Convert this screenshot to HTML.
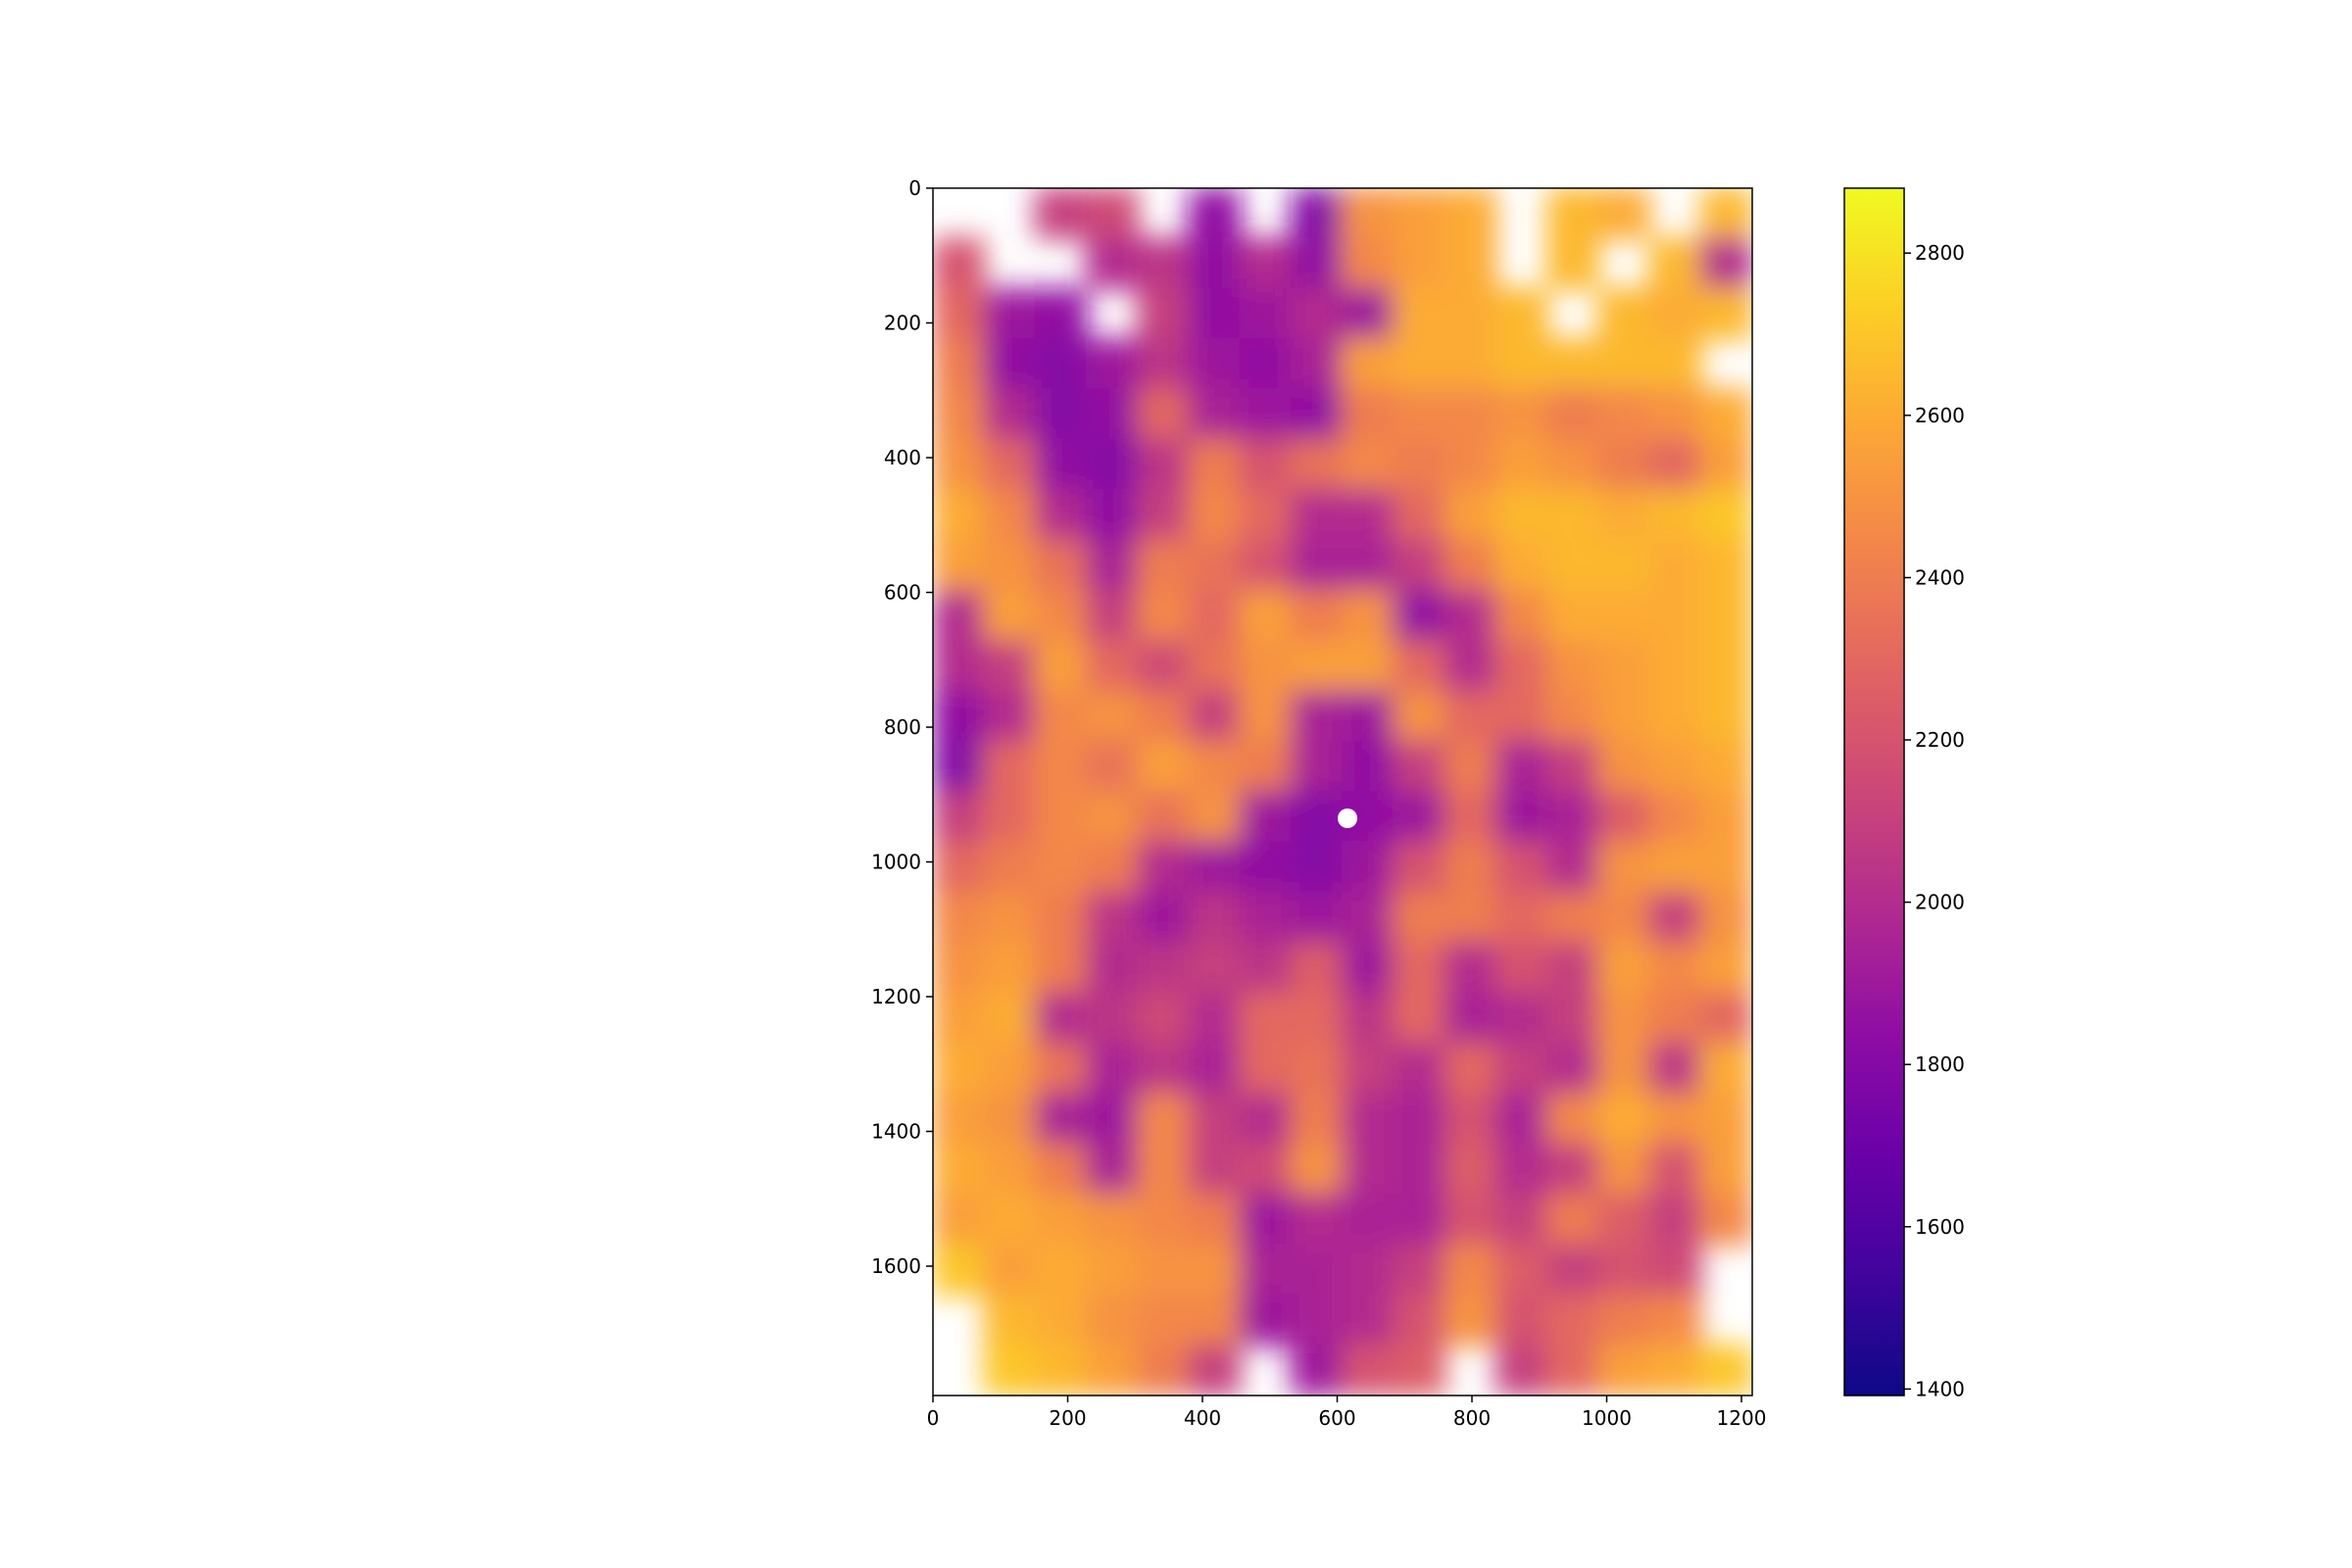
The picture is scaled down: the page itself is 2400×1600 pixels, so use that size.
<!DOCTYPE html>
<html><head><meta charset="utf-8"><style>
body{margin:0;background:#fff;}
svg{display:block;font-family:"DejaVu Sans","Liberation Sans",sans-serif;}
</style></head><body>
<svg id="fig" width="2400" height="1600" viewBox="0 0 2400 1600" xmlns="http://www.w3.org/2000/svg">
<defs>
<filter id="blur" x="-5%" y="-5%" width="110%" height="110%"><feGaussianBlur stdDeviation="14"/></filter>
<clipPath id="plotclip"><rect x="952" y="192" width="836" height="1232"/></clipPath>
<linearGradient id="cbgrad" x1="0" y1="1" x2="0" y2="0">
<stop offset="0" stop-color="#0d0887"/><stop offset="0.1" stop-color="#41049d"/><stop offset="0.2" stop-color="#6a00a8"/><stop offset="0.3" stop-color="#8f0da4"/><stop offset="0.4" stop-color="#b12a90"/><stop offset="0.5" stop-color="#cc4778"/><stop offset="0.6" stop-color="#e16462"/><stop offset="0.7" stop-color="#f2844b"/><stop offset="0.8" stop-color="#fca636"/><stop offset="0.9" stop-color="#fcce25"/><stop offset="1" stop-color="#f0f921"/>
</linearGradient>
</defs>
<g id="heat" clip-path="url(#plotclip)"><g id="cells" filter="url(#blur)"></g></g>
<circle cx="1375" cy="835" r="10" fill="#fff"/>
<rect x="952" y="192" width="836" height="1232" fill="none" stroke="#000" stroke-width="1.5"/>
<g id="axes"></g>
<rect x="1882" y="192" width="61" height="1232" fill="url(#cbgrad)" stroke="#000" stroke-width="1.5"/>
</svg>
<script>
const W = null;
const xTicks = [0,200,400,600,800,1000,1200];
const yTicks = [0,200,400,600,800,1000,1200,1400,1600];
const cbTicks = [1400,1600,1800,2000,2200,2400,2600,2800];
const vmin = 1392, vmax = 2880;
const dataW = 1216, dataH = 1792;
const row0=[W,W,2100,2150,W,1850,W,1800,2500,2550,2600,W,2650,2600,W,2650];
const row1=[2200,W,W,2000,2050,1850,2000,1850,2450,2550,2600,W,2650,W,2650,2000];
const row2=[2300,1900,1850,W,2100,1850,1900,2000,1900,2600,2600,2650,W,2650,2600,2650];
const row3=[2400,1850,1800,1900,2050,1900,1850,1950,2550,2600,2600,2650,2650,2650,2650,W];
const row4=[2450,2000,1800,1850,2300,1950,1900,1850,2400,2450,2450,2500,2400,2450,2500,2600];
const row5=[2500,2300,1850,1800,2050,2400,2200,2350,2450,2400,2450,2550,2500,2400,2300,2550];
const row6=[2600,2450,2000,1850,2100,2450,2300,2000,2000,2300,2550,2650,2650,2600,2650,2700];
const row7=[2550,2500,2350,1950,2400,2350,2200,1950,1950,2100,2400,2600,2650,2650,2600,2650];
const row8=[2000,2550,2450,2100,2450,2300,2550,2400,2500,1850,2000,2450,2600,2600,2600,2650];
const row9=[2000,2100,2550,2300,2150,2350,2500,2550,2550,2300,2000,2300,2500,2550,2600,2650];
const row10=[1850,2000,2450,2500,2400,2100,2500,1950,1900,2500,2300,2300,2450,2550,2600,2650];
const row11=[1800,2300,2450,2350,2550,2450,2400,1950,1850,2100,2400,1950,2100,2500,2550,2600];
const row12=[2100,2300,2450,2500,2350,2500,1900,1800,1850,1900,2300,1900,1950,2250,2450,2550];
const row13=[2300,2400,2450,2400,2000,1900,1850,1800,1900,2200,2400,2200,2000,2500,2550,2550];
const row14=[2450,2500,2400,2050,1900,2050,1950,1900,1950,2400,2400,2300,2400,2450,2100,2500];
const row15=[2500,2550,2400,2000,2050,2100,2050,2250,1900,2300,2000,2200,2100,2550,2450,2550];
const row16=[2550,2600,2000,2050,2150,2000,2300,2300,2050,2300,1950,2000,2100,2500,2400,2300];
const row17=[2600,2550,2350,1950,2050,1950,2300,2350,2100,2000,2300,2100,2000,2500,2050,2600];
const row18=[2550,2500,1950,1900,2450,2100,2000,2400,2000,1950,2200,1950,2450,2600,2500,2550];
const row19=[2600,2550,2400,1950,2450,2100,2150,2500,2000,1950,2250,2000,2100,2500,2200,2550];
const row20=[2550,2600,2550,2500,2450,2400,1900,2000,1950,1950,2200,2100,2400,2250,2100,2450];
const row21=[2700,2550,2600,2550,2500,2500,1950,1950,2000,2100,2450,2250,2100,2200,2150,W];
const row22=[W,2650,2600,2500,2450,2450,1900,1950,2000,2200,2500,2200,2300,2400,2450,W];
const row23=[W,2700,2650,2550,2400,2100,W,1900,2200,2250,W,2100,2300,2550,2600,2700];
const grid=[row0,row1,row2,row3,row4,row5,row6,row7,row8,row9,row10,row11,row12,row13,row14,row15,row16,row17,row18,row19,row20,row21,row22,row23];

const PX0=952, PY0=192, PW=836, PH=1232;
function xScale(v){return PX0 + v/dataW*PW;}
function yScale(v){return PY0 + v/dataH*PH;}
function cbScale(v){return 1424 - (v-vmin)/(vmax-vmin)*1232;}
const stops=[[13,8,135],[65,4,157],[106,0,168],[143,13,164],[177,42,144],[204,71,120],[225,100,98],[242,132,75],[252,166,54],[252,206,37],[240,249,33]];
function plasma(v){
  let t=Math.max(0,Math.min(1,(v-vmin)/(vmax-vmin)))*10;
  let i=Math.min(9,Math.floor(t)), f=t-i;
  const a=stops[i], b=stops[i+1];
  return 'rgb('+a.map((c,k)=>Math.round(c+(b[k]-c)*f)).join(',')+')';
}
const NS='http://www.w3.org/2000/svg';
const cells=document.getElementById('cells');
const nr=grid.length, nc=grid[0].length;
const cw=dataW/nc, ch=dataH/nr;
grid.forEach((row,r)=>row.forEach((v,c)=>{
  if(v===null) return;
  const el=document.createElementNS(NS,'rect');
  
  
  const x0=xScale(c*cw), y0=yScale(r*ch);
  el.setAttribute('x',x0-1); el.setAttribute('y',y0-1);
  el.setAttribute('width',xScale((c+1)*cw)-x0+2); el.setAttribute('height',yScale((r+1)*ch)-y0+2);
  el.setAttribute('fill',plasma(v));
  cells.appendChild(el);
}));
const axes=document.getElementById('axes');
function line(x1,y1,x2,y2){const l=document.createElementNS(NS,'line');l.setAttribute('x1',x1);l.setAttribute('y1',y1);l.setAttribute('x2',x2);l.setAttribute('y2',y2);l.setAttribute('stroke','#000');l.setAttribute('stroke-width','1.5');return l;}
function text(x,y,s,anchor){const t=document.createElementNS(NS,'text');t.setAttribute('x',x);t.setAttribute('y',y);t.setAttribute('font-size','20');t.setAttribute('text-anchor',anchor);t.setAttribute('dominant-baseline','central');t.textContent=s;return t;}
xTicks.forEach(v=>{
  const x=xScale(v);
  const l=line(x,1424,x,1431);
  
  
  axes.appendChild(l);
  const t=text(x,1447,String(v),'middle');
  
  
  axes.appendChild(t);
});
yTicks.forEach(v=>{
  const y=yScale(v);
  const l=line(945,y,952,y);
  
  
  axes.appendChild(l);
  const t=text(940,y,String(v),'end');
  
  
  axes.appendChild(t);
});
cbTicks.forEach(v=>{
  const y=cbScale(v);
  const l=line(1943,y,1950,y);
  
  
  axes.appendChild(l);
  const t=text(1954,y,String(v),'start');
  
  
  axes.appendChild(t);
});
</script>
</body></html>
